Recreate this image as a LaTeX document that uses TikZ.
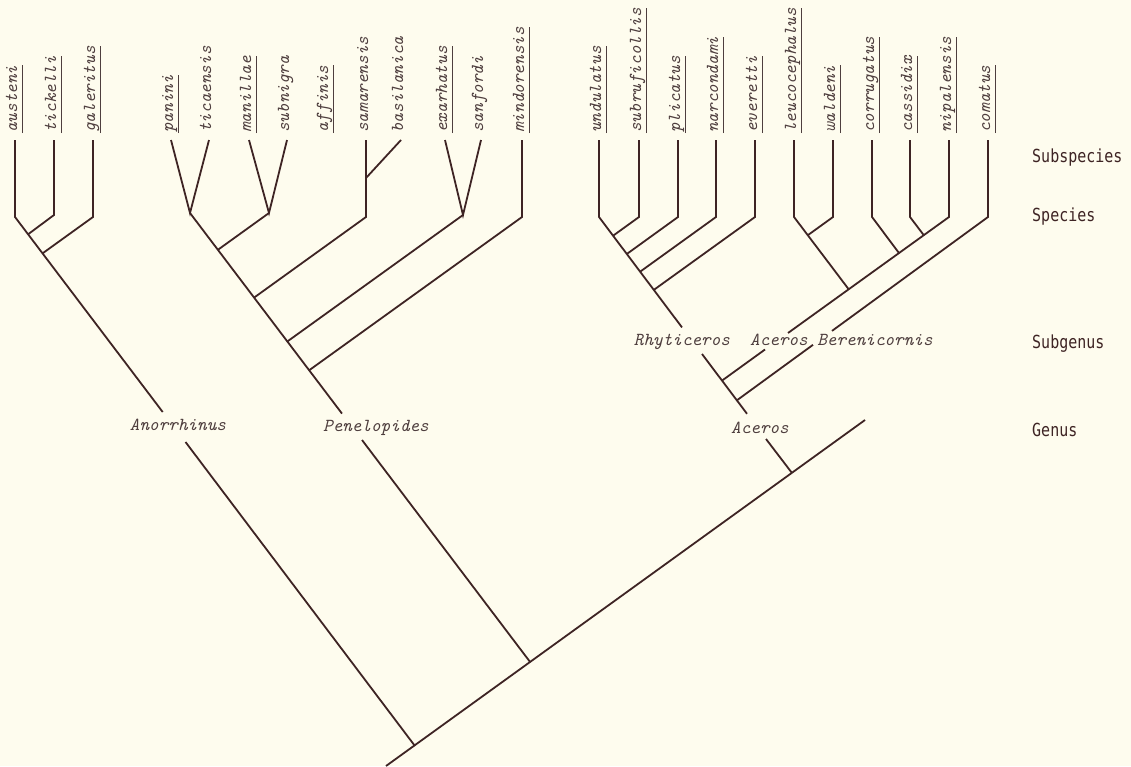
\documentclass[tikz,border=0pt]{standalone}
\usepackage{fontspec}
\usepackage{tikz}
\newfontfamily\rankfont{DejaVu Sans Mono}
\newcommand\taxonfont{\ttfamily\itshape\fontsize{18.3}{20}\selectfont}
\definecolor{paper}{RGB}{254,252,238}
\definecolor{ink}{RGB}{62,36,36}
\definecolor{typeink}{RGB}{78,62,62}
\tikzset{
    branch_line/.style = {
        draw=ink,
        line width=1.8pt
    },
    under_line/.style = {
        draw=typeink,
        line width=1.1pt
    },
    leaf_label/.style = {
        rotate=90,
        anchor=mid west,
        inner sep=0pt,
        text depth=5pt,
        font=\taxonfont,
        text=typeink
    },
    ul_leaf_label/.style = {
        leaf_label,
        append after command={(\tikzlastnode.south west) edge[under_line] (\tikzlastnode.south east)}
    },
    taxon_label/.style = {
        anchor=mid,
        inner sep=0pt,
        font=\taxonfont,
        text=typeink
    },
    rank_label/.style = {
        anchor=base west,
        inner sep=0pt,
        yscale=1.2,
        font=\rankfont\fontsize{15}{18}\selectfont,
        text=ink
    },
}
\begin{document}
\begin{tikzpicture}[x=1pt, y=-1pt]
    \useasboundingbox (0,0) rectangle (1131,766);
    \fill[paper] (0,0) rectangle (1131,766);

    \foreach \nm/\xx/\st in {austeni/15/ul_leaf_label, tickelli/54/ul_leaf_label, galeritus/93/ul_leaf_label,
        panini/171/ul_leaf_label, ticaensis/209/leaf_label, manillae/249/ul_leaf_label, subnigra/287/leaf_label,
        affinis/326/ul_leaf_label, samarensis/366/leaf_label, basilanica/401/leaf_label,
        exarhatus/445/ul_leaf_label, sanfordi/481/leaf_label, mindorensis/522/ul_leaf_label,
        undulatus/599/ul_leaf_label, subruficollis/639/ul_leaf_label, plicatus/678/ul_leaf_label,
        narcondami/716/ul_leaf_label, everetti/755/ul_leaf_label, leucocephalus/794/ul_leaf_label,
        waldeni/833/ul_leaf_label, corrugatus/872/ul_leaf_label, cassidix/910/ul_leaf_label,
        nipalensis/949/ul_leaf_label, comatus/988/ul_leaf_label} {
        \coordinate (\nm) at (\xx,140);
        \node[\st] (\nm_label) at (\xx,133) {\nm};
    }

    \node[taxon_label] (anorrhinus_label) at (178,428) {Anorrhinus};
    \node[taxon_label] (penelopides_label) at (376,429) {Penelopides};
    \node[taxon_label] (aceros_genus_label) at (760,431) {Aceros};
    \node[taxon_label] (rhyticeros_label) at (682,343) {Rhyticeros};
    \node[taxon_label] (aceros_sub_label) at (779,343) {Aceros};
    \node[taxon_label] (berenicornis_label) at (875,343) {Berenicornis};

    \node[rank_label] (subspecies_rank) at (1032,162) {Subspecies};
    \node[rank_label] (species_rank) at (1032,221) {Species};
    \node[rank_label] (subgenus_rank) at (1032,348) {Subgenus};
    \node[rank_label] (genus_rank) at (1032,436) {Genus};

    \begin{scope}
        \coordinate (austeni_sp) at (15,217);
        \coordinate (tickelli_sp) at (54,215);
        \coordinate (galeritus_sp) at (93,217);
        \coordinate (anor_j1) at (27.8,234.5);
        \coordinate (anor_j2) at (42.5,253.4);
        \coordinate (anor_gap_top) at (162.7,412);
        \coordinate (anor_gap_bot) at (185.5,442);
        \coordinate (root_anor) at (414.9,745.9);
        \path[branch_line] (austeni) -- (austeni_sp) -- (anor_gap_top);
        \path[branch_line] (anor_gap_bot) -- (root_anor);
        \path[branch_line] (tickelli) -- (tickelli_sp) -- (anor_j1);
        \path[branch_line] (galeritus) -- (galeritus_sp) -- (anor_j2);
    \end{scope}

    \begin{scope}
        \coordinate (pan_sp) at (190,213);
        \coordinate (man_sp) at (269,213);
        \coordinate (sam_sp) at (366,217);
        \coordinate (bas_j) at (366,178);
        \coordinate (exa_sp) at (463,215);
        \coordinate (min_sp) at (522,217);
        \coordinate (pen_j1) at (217.9,249.8);
        \coordinate (pen_j2) at (254.1,297.6);
        \coordinate (pen_j3) at (287.3,341.5);
        \coordinate (pen_j4) at (309.1,370.3);
        \coordinate (pen_gap_top) at (342,413.6);
        \coordinate (pen_gap_bot) at (362,440);
        \coordinate (root_pen) at (530.1,662);
        \path[branch_line] (panini) -- (pan_sp) -- (ticaensis);
        \path[branch_line] (pan_sp) -- (pen_gap_top);
        \path[branch_line] (pen_gap_bot) -- (root_pen);
        \path[branch_line] (manillae) -- (man_sp) -- (subnigra);
        \path[branch_line] (man_sp) -- (pen_j1);
        \path[branch_line] (samarensis) -- (sam_sp) -- (pen_j2);
        \path[branch_line] (basilanica) -- (bas_j);
        \path[branch_line] (exarhatus) -- (exa_sp) -- (sanfordi);
        \path[branch_line] (exa_sp) -- (pen_j3);
        \path[branch_line] (mindorensis) -- (min_sp) -- (pen_j4);
    \end{scope}

    \begin{scope}
        \coordinate (und_sp) at (599,217);
        \coordinate (sub_sp) at (639,217);
        \coordinate (pli_sp) at (678,217);
        \coordinate (nar_sp) at (716,217);
        \coordinate (eve_sp) at (755,217);
        \coordinate (rhy_j1) at (613.1,235.7);
        \coordinate (rhy_j2) at (626.8,254.0);
        \coordinate (rhy_j3) at (640.1,271.7);
        \coordinate (rhy_j4) at (653.8,289.9);
        \coordinate (rhy_gap_top) at (682,327.4);
        \coordinate (rhy_gap_bot) at (702,354);
        \coordinate (acer_j1) at (722,380.6);
        \coordinate (acer_j2) at (736.9,400.3);
        \coordinate (acer_gap_top) at (747,413.8);
        \coordinate (acer_gap_bot) at (766,439);
        \coordinate (root_acer) at (791.9,472.9);
        \path[branch_line] (undulatus) -- (und_sp) -- (rhy_gap_top);
        \path[branch_line] (rhy_gap_bot) -- (acer_gap_top);
        \path[branch_line] (acer_gap_bot) -- (root_acer);
        \path[branch_line] (subruficollis) -- (sub_sp) -- (rhy_j1);
        \path[branch_line] (plicatus) -- (pli_sp) -- (rhy_j2);
        \path[branch_line] (narcondami) -- (nar_sp) -- (rhy_j3);
        \path[branch_line] (everetti) -- (eve_sp) -- (rhy_j4);

        \coordinate (leu_sp) at (794,217);
        \coordinate (wal_sp) at (833,217);
        \coordinate (cor_sp) at (872,217);
        \coordinate (cas_sp) at (910,217);
        \coordinate (nip_sp) at (949,217);
        \coordinate (com_sp) at (988,217);
        \coordinate (leu_j) at (807.8,235.2);
        \coordinate (asub_j1) at (848.7,289.3);
        \coordinate (asub_j2) at (899.2,253.3);
        \coordinate (asub_j3) at (923.8,235.2);
        \coordinate (asub_gap_top) at (788,333);
        \coordinate (asub_gap_bot) at (765,349.5);
        \coordinate (ber_gap_top) at (832,330.9);
        \coordinate (ber_gap_bot) at (813,344.8);
        \path[branch_line] (nipalensis) -- (nip_sp) -- (asub_gap_top);
        \path[branch_line] (asub_gap_bot) -- (acer_j1);
        \path[branch_line] (leucocephalus) -- (leu_sp) -- (asub_j1);
        \path[branch_line] (waldeni) -- (wal_sp) -- (leu_j);
        \path[branch_line] (corrugatus) -- (cor_sp) -- (asub_j2);
        \path[branch_line] (cassidix) -- (cas_sp) -- (asub_j3);
        \path[branch_line] (comatus) -- (com_sp) -- (ber_gap_top);
        \path[branch_line] (ber_gap_bot) -- (acer_j2);
    \end{scope}

    \coordinate (root_start) at (386,766);
    \coordinate (root_end) at (865,420);
    \path[branch_line] (root_start) -- (root_end);
\end{tikzpicture}
\end{document}
